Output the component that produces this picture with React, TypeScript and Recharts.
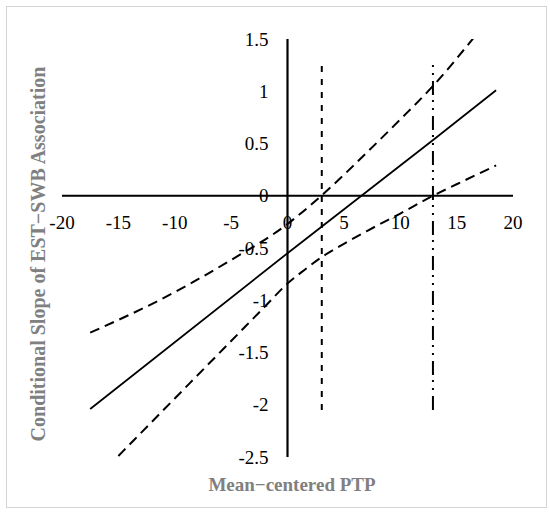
import { Line, LineChart, ReferenceDot, ReferenceLine, XAxis, YAxis } from "recharts";

// conditional slope (solid)
const slopeX = [-17.5, 0, 13, 18.5];
const slopeY = [-2.04, -0.55, 0.54, 1.01];

// upper confidence band
const upperX = [-17.5, -11.2, -5.4, 0, 3, 7, 10, 12.9, 16.5];
const upperY = [-1.31, -0.99, -0.64, -0.27, 0, 0.41, 0.73, 1.05, 1.51];

// lower confidence band
const lowerX = [-15, -10, -5, -2, 0, 1.5, 3, 5, 7, 10, 12.9, 15, 18.5];
const lowerY = [-2.49, -1.94, -1.39, -1.06, -0.84, -0.71, -0.59, -0.46, -0.34, -0.17, 0, 0.11, 0.29];

// region-of-significance markers
const markerLowX = 3.04;
const markerHighX = 12.9;
const markerY = [-2.05, 1.27];

const xTicks = [-20, -15, -10, -5, 0, 5, 10, 15, 20];
const yTicks = [-2.5, -2, -1.5, -1, -0.5, 0, 0.5, 1, 1.5];

const FONT = "'Liberation Serif', 'Times New Roman', serif";

const zip = (xs: number[], ys: number[]) => xs.map((x, i) => ({ x, y: ys[i] }));

const slopeData = zip(slopeX, slopeY);
const upperData = zip(upperX, upperY);
const lowerData = zip(lowerX, lowerY);
const markerLow = markerY.map((y) => ({ x: markerLowX, y }));
const markerHigh = markerY.map((y) => ({ x: markerHighX, y }));

export default function App() {
  return (
    <div
      style={{
        position: "absolute",
        left: 0,
        top: 0,
        width: 550,
        height: 513,
        background: "#fff",
      }}
    >
      <div
        style={{
          position: "absolute",
          left: 6,
          top: 6,
          width: 539,
          height: 500,
          border: "1px solid #d4d4d4",
        }}
      />
      <LineChart
        width={550}
        height={513}
        margin={{ top: 39, right: 37, bottom: 56, left: 62 }}
        style={{ position: "absolute", left: 0, top: 0 }}
      >
        <XAxis dataKey="x" type="number" domain={[-20, 20]} allowDataOverflow hide />
        <YAxis type="number" domain={[-2.5, 1.5]} allowDataOverflow hide />
        <ReferenceLine x={0} stroke="#000" strokeWidth={2.2} />
        <ReferenceLine y={0} stroke="#000" strokeWidth={2.2} />
        <Line
          data={markerLow}
          dataKey="y"
          type="linear"
          stroke="#000"
          strokeWidth={2}
          strokeDasharray="6 7"
          dot={false}
          isAnimationActive={false}
        />
        <Line
          data={markerHigh}
          dataKey="y"
          type="linear"
          stroke="#000"
          strokeWidth={2}
          strokeDasharray="14 6 2 6 2 5"
          dot={false}
          isAnimationActive={false}
        />
        <Line
          data={upperData}
          dataKey="y"
          type="monotone"
          stroke="#000"
          strokeWidth={2}
          strokeDasharray="10 6"
          dot={false}
          isAnimationActive={false}
        />
        <Line
          data={lowerData}
          dataKey="y"
          type="monotone"
          stroke="#000"
          strokeWidth={2}
          strokeDasharray="10 6"
          dot={false}
          isAnimationActive={false}
        />
        <Line
          data={slopeData}
          dataKey="y"
          type="linear"
          stroke="#000"
          strokeWidth={1.8}
          dot={false}
          isAnimationActive={false}
        />
        {xTicks.map((t) => (
          <ReferenceDot
            key={"x" + t}
            x={t}
            y={0}
            r={0}
            fill="none"
            stroke="none"
            label={{
              value: String(t),
              position: "bottom",
              offset: 20,
              fill: "#000",
              fontSize: 19,
              fontFamily: FONT,
            }}
          />
        ))}
        {yTicks.map((t) => (
          <ReferenceDot
            key={"y" + t}
            x={0}
            y={t}
            r={0}
            fill="none"
            stroke="none"
            label={{
              value: String(t),
              position: "left",
              offset: 19,
              fill: "#000",
              fontSize: 19,
              fontFamily: FONT,
            }}
          />
        ))}
      </LineChart>
      <div
        style={{
          position: "absolute",
          left: 292,
          top: 474,
          transform: "translateX(-50%)",
          whiteSpace: "nowrap",
          fontFamily: FONT,
          fontWeight: "bold",
          fontSize: 19,
          color: "#808080",
          lineHeight: "22px",
        }}
      >
        Mean−centered PTP
      </div>
      <div
        style={{
          position: "absolute",
          left: 38,
          top: 254,
          transform: "translate(-50%, -50%) rotate(-90deg)",
          whiteSpace: "nowrap",
          fontFamily: FONT,
          fontWeight: "bold",
          fontSize: 20,
          color: "#808080",
          lineHeight: "22px",
        }}
      >
        Conditional Slope of EST−SWB Association
      </div>
    </div>
  );
}
